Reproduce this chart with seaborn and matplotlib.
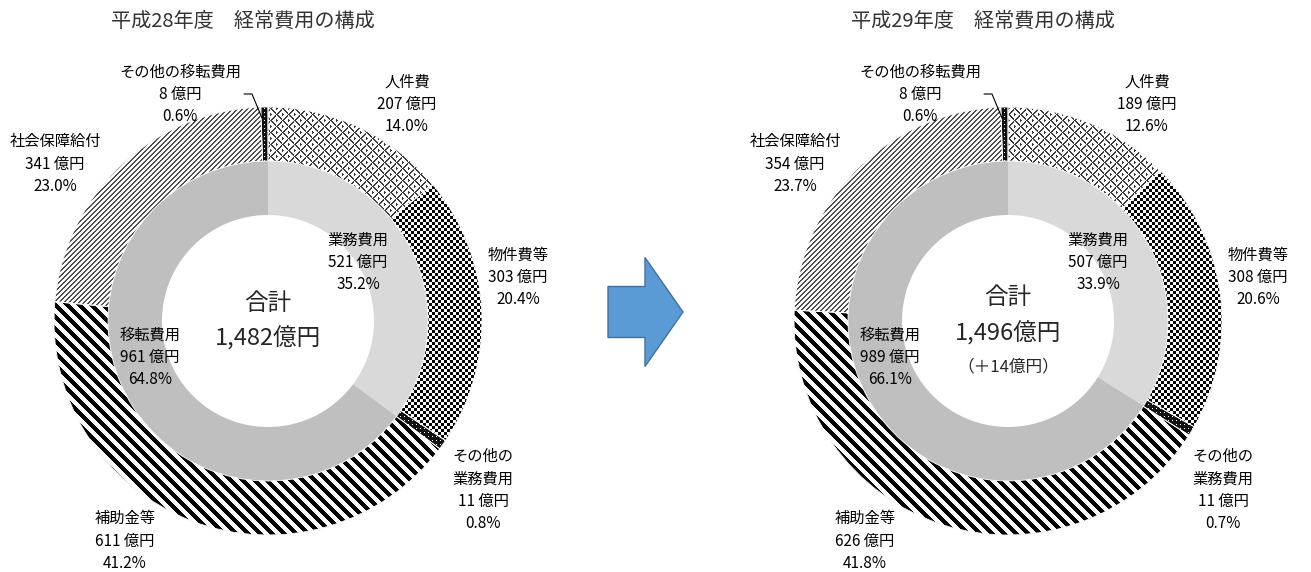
import numpy as np
import matplotlib
matplotlib.use('Agg')
import matplotlib.pyplot as plt
import matplotlib.patches as mpatches
import matplotlib.colors as mcolors
import seaborn as sns

sns.set_theme(style='white')
plt.rcParams['font.family'] = ['Noto Sans CJK JP', 'DejaVu Sans']

# ====== data ======
outer_names = ['人件費', '物件費等', 'その他の\n業務費用', '補助金等', '社会保障給付', 'その他の移転費用']
inner_names = ['業務費用', '移転費用']

h28_outer = [207, 303, 11, 611, 341, 8]
h28_outer_pct = [14.0, 20.4, 0.8, 41.2, 23.0, 0.6]
h28_inner = [521, 961]
h28_inner_pct = [35.2, 64.8]
h28_total = 1482

h29_outer = [189, 308, 11, 626, 354, 8]
h29_outer_pct = [12.6, 20.6, 0.7, 41.8, 23.7, 0.6]
h29_inner = [507, 989]
h29_inner_pct = [33.9, 66.1]
h29_total = 1496
h29_diff = 14

titles = ['平成28年度\u3000経常費用の構成', '平成29年度\u3000経常費用の構成']

# ====== layout (pixel coords, y from top) ======
W, H = 1311, 572
R_OUT, R_MID, RING = 214, 160, 54

# label block centers relative to donut center (dx, dy in image pixels)
outer_pos = [(139, -217), (250, -44), (215, 169), (-143, 220), (-213, -157), (-88, -227)]
inner_pos = [(90, -59), (-118, 36)]


def to_rgb(c):
    return np.array(mcolors.to_rgb(c))


yy, xx = np.mgrid[0:H, 0:W]


def texture(mask, fg, bg):
    img = np.empty((H, W, 3))
    img[:] = to_rgb(bg)
    img[mask] = to_rgb(fg)
    return img


block = ((xx // 6 + yy // 6) % 2 == 0)
weave = (block & ((xx + yy) % 6 < 2)) | (~block & ((xx - yy) % 6 < 2))
textures = [
    texture(weave, '#3c3c3c', 'white'),                                    # 人件費
    texture(((xx // 3 + yy // 3) % 2 == 0), 'black', 'white'),             # 物件費等
    texture(((xx % 4 == 0) & (yy % 4 == 0)), 'white', '#111111'),          # その他の業務費用
    texture(((xx - yy) % 12 < 6), 'black', 'white'),                       # 補助金等
    texture(((xx + yy) % 5 < 2), '#505050', 'white'),                      # 社会保障給付
    texture(((xx % 4 == 0) & (yy % 4 == 0)), 'white', '#111111'),          # その他の移転費用
]

fig = plt.figure(figsize=(W / 100, H / 100), dpi=100)
ax = fig.add_axes([0, 0, 1, 1])


def donut(cx, cy_img, outer, outer_pct, inner, inner_pct):
    cy = H - cy_img
    wedges, _ = ax.pie(outer, radius=R_OUT, center=(cx, cy), startangle=90,
                       counterclock=False, wedgeprops=dict(width=RING, linewidth=0))
    for w, t in zip(wedges, textures):
        im = ax.imshow(t, extent=(0, W, 0, H), origin='upper',
                       interpolation='nearest', zorder=2)
        im.set_clip_path(w)
    ax.pie(outer, radius=R_OUT, center=(cx, cy), startangle=90, counterclock=False,
           wedgeprops=dict(width=RING, linewidth=0.6, edgecolor='white',
                           facecolor='none', zorder=3))
    ax.pie(inner, radius=R_MID, center=(cx, cy), startangle=90, counterclock=False,
           colors=['#d9d9d9', '#bfbfbf'],
           wedgeprops=dict(width=RING, linewidth=0))
    for name, v, p, (dx, dy) in zip(outer_names, outer, outer_pct, outer_pos):
        ax.text(cx + dx, cy - dy, f'{name}\n{v} 億円\n{p:.1f}%', ha='center',
                va='center', fontsize=11, linespacing=1.4, color='black', zorder=5)
    for name, v, p, (dx, dy) in zip(inner_names, inner, inner_pct, inner_pos):
        ax.text(cx + dx, cy - dy, f'{name}\n{v} 億円\n{p:.1f}%', ha='center',
                va='center', fontsize=11, linespacing=1.4, color='black', zorder=5)
    # leader line for その他の移転費用
    ax.plot([cx - 24, cx - 16, cx - 6], [H - 94, H - 94, H - 118],
            color='black', lw=0.8, zorder=4)
    return cx, cy


cx, cy = donut(268, 321, h28_outer, h28_outer_pct, h28_inner, h28_inner_pct)
ax.text(cx, cy + 18, '合計', ha='center', va='center', fontsize=17, zorder=5)
ax.text(cx, cy - 17, f'{h28_total:,}億円', ha='center', va='center', fontsize=17, zorder=5)
ax.text(cx - 25, H - 21, titles[0], ha='center', va='center', fontsize=14.5,
        color='#333333')

cx, cy = donut(1008, 321, h29_outer, h29_outer_pct, h29_inner, h29_inner_pct)
ax.text(cx, cy + 23, '合計', ha='center', va='center', fontsize=17, zorder=5)
ax.text(cx, cy - 12, f'{h29_total:,}億円', ha='center', va='center', fontsize=17, zorder=5)
ax.text(cx, cy - 46, f'（＋{h29_diff}億円）', ha='center', va='center', fontsize=12, zorder=5)
ax.text(cx - 25, H - 21, titles[1], ha='center', va='center', fontsize=14.5,
        color='#333333')

# arrow between the two charts
arrow = mpatches.FancyArrow(608, H - 312, 75, 0, width=51, head_width=109,
                            head_length=38, length_includes_head=True,
                            facecolor='#5b9bd5', edgecolor='#41719c', lw=1)
ax.add_patch(arrow)

ax.set_xlim(0, W)
ax.set_ylim(0, H)
ax.set_aspect('equal')
ax.axis('off')

fig.savefig('out.png', dpi=100, facecolor='white')
